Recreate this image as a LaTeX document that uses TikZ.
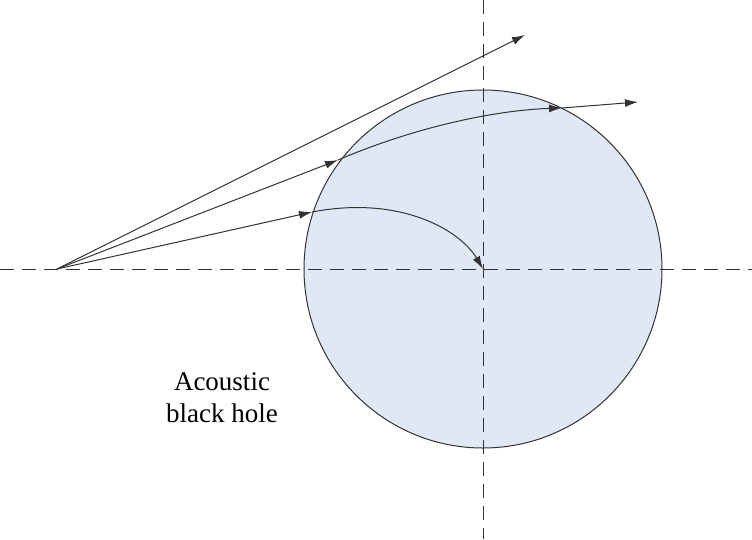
\documentclass[tikz,border=0pt]{standalone}
\usepackage{fontspec}
\setmainfont{Liberation Serif}
\usetikzlibrary{arrows.meta}
\begin{document}
\begin{tikzpicture}[x=1pt,y=-1pt,
  axis/.style={dashed,dash pattern=on 14pt off 8pt,line width=1pt,black!80},
  ray/.style={line width=1pt,black!80,-{Latex[length=13pt,width=8pt]}}]
  \useasboundingbox (0,0) rectangle (752,539);
  \node[circle,draw=black!80,line width=1pt,fill={rgb,255:red,224;green,232;blue,245},
        minimum size=358pt,inner sep=0pt] (hole) at (483,269) {};
  \draw[axis] (0,269) -- (752,269);
  \draw[axis] (483,0) -- (483,539);
  \coordinate (src) at (57,269);
  \coordinate (c) at (483,269);
  \coordinate (p1) at (338,160);
  \coordinate (p2) at (562,108);
  \coordinate (p3) at (312,212);
  \coordinate (e1) at (525,35);
  \coordinate (e2) at (638,102);
  \draw[ray] (src) -- (e1);
  \draw[ray] (src) -- (p1);
  \draw[ray] (p1) .. controls (420,125) and (500,110) .. (p2);
  \draw[ray] (p2) -- (e2);
  \draw[ray] (src) -- (p3);
  \draw[ray] (p3) .. controls (400,195) and (460,230) .. (c);
  \node[font=\fontsize{27}{32}\selectfont,align=center] (label) at (222,398) {Acoustic\\black hole};
\end{tikzpicture}
\end{document}
